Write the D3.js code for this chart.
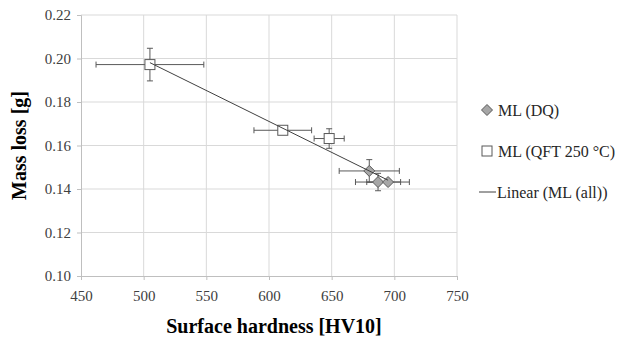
<!DOCTYPE html>
<html>
<head>
<meta charset="utf-8">
<script src="https://cdn.jsdelivr.net/npm/d3@7"></script>
<style>
  body { margin: 0; background: #fff; }
</style>
</head>
<body>
<div id="chart"></div>
<script>
// hardness [HV10], mass loss [g], error bars
const dqHardness = [680, 687, 695];
const dqMassLoss = [0.1483, 0.1432, 0.1432];
const dqHardnessErr = [24, 18, 17];
const dqMassLossErr = [0.0052, 0.004, 0.0];

const qftHardness = [505, 611, 648];
const qftMassLoss = [0.1972, 0.167, 0.1632];
const qftHardnessErr = [43, 23, 12];
const qftMassLossErr = [0.0075, 0.0, 0.0045];

const xTicks = [450, 500, 550, 600, 650, 700, 750];
const yTicks = [0.10, 0.12, 0.14, 0.16, 0.18, 0.20, 0.22];
const legendLabels = ['ML (DQ)', 'ML (QFT 250 °C)', 'Linear (ML (all))'];

const FONT = '"Liberation Serif", "Times New Roman", Times, serif';
const width = 618, height = 339;
const margin = { left: 81, right: 161, top: 15, bottom: 63 };

const svg = d3.select('#chart').append('svg')
    .attr('width', width)
    .attr('height', height)
    .attr('font-family', FONT);

const x = d3.scaleLinear().domain([450, 750]).range([margin.left, width - margin.right]);
const y = d3.scaleLinear().domain([0.10, 0.22]).range([height - margin.bottom, margin.top]);

// grid
svg.append('g').selectAll('line')
    .data(yTicks.slice(1))
    .join('line')
    .attr('x1', x(450)).attr('x2', x(750))
    .attr('y1', d => y(d)).attr('y2', d => y(d))
    .attr('stroke', '#d9d9d9');
svg.append('g').selectAll('line')
    .data(xTicks.slice(1))
    .join('line')
    .attr('x1', d => x(d)).attr('x2', d => x(d))
    .attr('y1', y(0.10)).attr('y2', y(0.22))
    .attr('stroke', '#d9d9d9');

// axes
const xAxis = svg.append('g')
    .attr('transform', `translate(0,${y(0.10)})`)
    .call(d3.axisBottom(x).tickValues(xTicks).tickSize(4).tickFormat(d3.format('d')));
const yAxis = svg.append('g')
    .attr('transform', `translate(${x(450)},0)`)
    .call(d3.axisLeft(y).tickValues(yTicks).tickSize(4).tickFormat(d3.format('.2f')));
[xAxis, yAxis].forEach(a => {
    a.attr('font-family', FONT).attr('font-size', 15);
    a.select('.domain').attr('stroke', '#bfbfbf');
    a.selectAll('.tick line').attr('stroke', '#bfbfbf');
    a.selectAll('.tick text').attr('fill', '#404040');
});
xAxis.selectAll('.tick text').attr('dy', '1.2em');
yAxis.selectAll('.tick text').attr('dx', '-0.2em');

// axis titles
svg.append('text')
    .attr('x', 274).attr('y', 333)
    .attr('text-anchor', 'middle')
    .attr('font-size', 20).attr('font-weight', 'bold')
    .text('Surface hardness [HV10]');
svg.append('text')
    .attr('transform', `translate(26,${y(0.16)}) rotate(-90)`)
    .attr('text-anchor', 'middle')
    .attr('font-size', 20).attr('font-weight', 'bold')
    .text('Mass loss [g]');

// trend line: least squares over all points
const allX = dqHardness.concat(qftHardness);
const allY = dqMassLoss.concat(qftMassLoss);
const mx = d3.mean(allX), my = d3.mean(allY);
const slope = d3.sum(allX, (v, i) => (v - mx) * (allY[i] - my)) / d3.sum(allX, v => (v - mx) ** 2);
const icpt = my - slope * mx;
const [x0, x1] = d3.extent(allX);

const series = [
    { h: dqHardness, m: dqMassLoss, he: dqHardnessErr, me: dqMassLossErr, kind: 'diamond' },
    { h: qftHardness, m: qftMassLoss, he: qftHardnessErr, me: qftMassLossErr, kind: 'square' }
];

const errColor = '#595959';
const cap = 3;
series.forEach(s => {
    const g = svg.append('g').attr('stroke', errColor).attr('stroke-width', 1);
    s.h.forEach((h, i) => {
        const cx = x(h), cy = y(s.m[i]);
        const xl = x(h - s.he[i]), xr = x(h + s.he[i]);
        g.append('line').attr('x1', xl).attr('x2', xr).attr('y1', cy).attr('y2', cy);
        g.append('line').attr('x1', xl).attr('x2', xl).attr('y1', cy - cap).attr('y2', cy + cap);
        g.append('line').attr('x1', xr).attr('x2', xr).attr('y1', cy - cap).attr('y2', cy + cap);
        if (s.me[i] > 0) {
            const yt = y(s.m[i] + s.me[i]), yb = y(s.m[i] - s.me[i]);
            g.append('line').attr('x1', cx).attr('x2', cx).attr('y1', yt).attr('y2', yb);
            g.append('line').attr('x1', cx - cap).attr('x2', cx + cap).attr('y1', yt).attr('y2', yt);
            g.append('line').attr('x1', cx - cap).attr('x2', cx + cap).attr('y1', yb).attr('y2', yb);
        }
    });
});

function marker(sel, kind, cx, cy) {
    if (kind === 'diamond') {
        sel.append('path')
            .attr('d', `M${cx},${cy - 5.5}L${cx + 5.5},${cy}L${cx},${cy + 5.5}L${cx - 5.5},${cy}Z`)
            .attr('fill', '#a6a6a6').attr('stroke', '#595959');
    } else {
        sel.append('rect')
            .attr('x', cx - 5).attr('y', cy - 5).attr('width', 10).attr('height', 10)
            .attr('fill', '#fff').attr('stroke', '#595959');
    }
}

series.forEach(s => {
    const g = svg.append('g');
    s.h.forEach((h, i) => marker(g, s.kind, x(h), y(s.m[i])));
});

svg.append('line')
    .attr('x1', x(x0)).attr('y1', y(icpt + slope * x0))
    .attr('x2', x(x1)).attr('y2', y(icpt + slope * x1))
    .attr('stroke', '#404040').attr('stroke-width', 1);

// legend
const lg = svg.append('g');
const ly = [110, 151, 192];
marker(lg, 'diamond', 487, ly[0]);
marker(lg, 'square', 487, ly[1]);
lg.append('line').attr('x1', 479).attr('x2', 496).attr('y1', ly[2]).attr('y2', ly[2])
    .attr('stroke', '#404040');
lg.selectAll('text')
    .data(legendLabels)
    .join('text')
    .attr('x', (d, i) => i === 2 ? 497 : 498)
    .attr('y', (d, i) => ly[i] + 5.5)
    .attr('fill', '#262626')
    .attr('font-size', 16)
    .text(d => d);
</script>
</body>
</html>
